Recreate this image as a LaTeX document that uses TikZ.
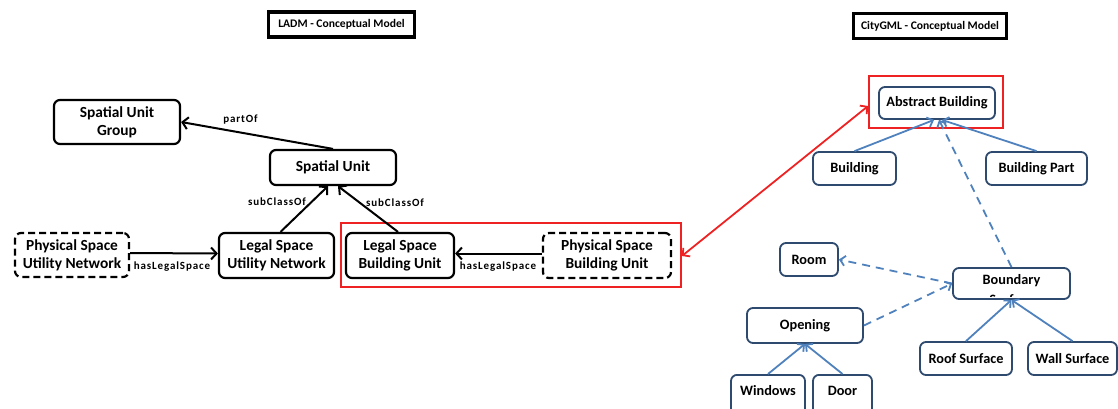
\documentclass[tikz,border=0pt]{standalone}
\usepackage{fontspec}
\setmainfont{Carlito}
\newfontfamily\spacedlabel[LetterSpace=8]{Carlito}
\usetikzlibrary{arrows.meta}
\definecolor{navy}{HTML}{2E4A6E}
\definecolor{linkblue}{HTML}{4F81BD}
\definecolor{hired}{HTML}{EE2222}
\begin{document}
\begin{tikzpicture}[x=1pt,y=-1pt,
  ladm/.style={draw=black,line width=2.2pt,rounded corners=6pt,fill=white,
    inner sep=0pt,align=center,font=\fontsize{15.4}{18}\selectfont\bfseries},
  ladmdash/.style={ladm,dash pattern=on 7pt off 4pt},
  gml/.style={draw=navy,line width=1.8pt,rounded corners=6pt,fill=white,
    inner sep=0pt,align=center,font=\fontsize{14.3}{17}\selectfont\bfseries},
  titlebox/.style={draw=black,line width=3.4pt,inner sep=0pt,fill=white,
    font=\fontsize{11.6}{13}\selectfont\bfseries},
  relabel/.style={font=\spacedlabel\fontsize{11}{13}\selectfont\bfseries,inner sep=0pt},
  blackarrow/.style={line width=2pt,-{Straight Barb[length=5.5pt,width=12pt]}},
  bluearrow/.style={draw=linkblue,line width=1.8pt,-{Straight Barb[length=5pt,width=10pt]}},
  bluedash/.style={bluearrow,dash pattern=on 8pt off 6pt},
  highlight/.style={draw=hired,line width=1.8pt,inner sep=0pt}
]
\useasboundingbox (0,0) rectangle (1118,408);

% ---------- titles ----------
\node[titlebox,minimum width=146pt,minimum height=25pt] (ladmtitle) at (341.5,24.5) {LADM - Conceptual Model};
\node[titlebox,minimum width=153pt,minimum height=25pt] (gmltitle) at (930,26) {CityGML - Conceptual Model};

% ---------- LADM ----------
\node[highlight,minimum width=340pt,minimum height=64pt] (redleft) at (511,255) {};
\node[ladm,minimum width=126pt,minimum height=44pt] (sug) at (117,122) {Spatial Unit\\Group};
\node[ladm,minimum width=126pt,minimum height=35pt] (su) at (333,167.5) {Spatial Unit};
\node[ladmdash,minimum width=114pt,minimum height=44pt] (psun) at (72,255) {Physical Space\\Utility Network};
\node[ladm,minimum width=115pt,minimum height=45pt] (lsun) at (276.5,255.5) {Legal Space\\Utility Network};
\node[ladm,minimum width=108pt,minimum height=45pt] (lsbu) at (400,255.5) {Legal Space\\Building Unit};
\node[ladmdash,minimum width=128pt,minimum height=45pt] (psbu) at (607,255.5) {Physical Space\\Building Unit};

\draw[blackarrow] (su.north) -- (sug.east);
\draw[blackarrow] (lsun.north) ++(4,0) -- ([xshift=-5pt]su.south);
\draw[blackarrow] ([xshift=-2pt]lsbu.north) -- ([xshift=5pt]su.south);
\draw[blackarrow] (psun.east) ++(0,-2) -- ([yshift=2pt]lsun.west);
\draw[blackarrow] ([yshift=2pt]psbu.west) -- ([yshift=2pt]lsbu.east);

\node[relabel] (lpart) at (240.5,120) {partOf};
\node[relabel] (lsub1) at (277,202) {subClassOf};
\node[relabel] (lsub2) at (395,203) {subClassOf};
\node[relabel] (lhas1) at (172,267) {hasLegalSpace};
\node[relabel] (lhas2) at (498,267) {hasLegalSpace};

% ---------- CityGML ----------
\node[highlight,minimum width=134pt,minimum height=52pt] (redright) at (936,102) {};
\node[gml,minimum width=116pt,minimum height=32pt] (ab) at (937,103) {Abstract Building};
\node[gml,minimum width=83pt,minimum height=33pt] (bld) at (854.5,168.5) {Building};
\node[gml,minimum width=101pt,minimum height=33pt] (bpart) at (1036.5,168.5) {Building Part};
\node[gml,minimum width=58pt,minimum height=33pt] (room) at (809,259.5) {Room};
\node[gml,minimum width=117pt,minimum height=31pt] (bound) at (1011.5,283.5) {};
\node[inner sep=0pt,font=\fontsize{14.3}{17}\selectfont\bfseries] (boundtxt) at (1011.5,281) {Boundary};
\begin{scope}
  \clip (955,270) rectangle (1068,296.5);
  \node[inner sep=0pt,anchor=north,font=\fontsize{14.3}{17}\selectfont\bfseries] (boundsurf) at (1011.5,294.5) {Surface};
\end{scope}
\node[gml,minimum width=116pt,minimum height=35pt] (open) at (805,325.5) {Opening};
\node[gml,minimum width=74pt,minimum height=42pt,anchor=north] (win) at (768,374) {};
\node[inner sep=0pt,font=\fontsize{14.3}{17}\selectfont\bfseries] (wintxt) at (768,391) {Windows};
\node[gml,minimum width=59pt,minimum height=42pt,anchor=north] (door) at (842.5,374) {};
\node[inner sep=0pt,font=\fontsize{14.3}{17}\selectfont\bfseries] (doortxt) at (842.5,391) {Door};
\node[gml,minimum width=92pt,minimum height=33pt] (roof) at (966,358.5) {Roof Surface};
\node[gml,minimum width=89pt,minimum height=33pt] (wall) at (1072.5,358.5) {Wall Surface};

\draw[bluearrow] (bld.north) -- ([xshift=-3pt]ab.south);
\draw[bluearrow] (bpart.north) -- ([xshift=5pt]ab.south);
\draw[bluedash] (bound.north) -- ([xshift=2pt]ab.south);
\draw[bluedash] (bound.west) -- (room.east);
\draw[bluedash] (open.east) -- (bound.west);
\draw[bluearrow] (roof.north) -- (bound.south);
\draw[bluearrow] (wall.north) -- (bound.south);
\draw[bluearrow] (win.north) -- (open.south);
\draw[bluearrow] (door.north) -- (open.south);

% ---------- correspondence ----------
\draw[draw=hired,line width=1.8pt,{Straight Barb[length=5pt,width=11pt]}-{Straight Barb[length=5pt,width=11pt]}]
  ([yshift=-1pt]redleft.east) -- ([yshift=-4pt]redright.west);
\end{tikzpicture}
\end{document}
